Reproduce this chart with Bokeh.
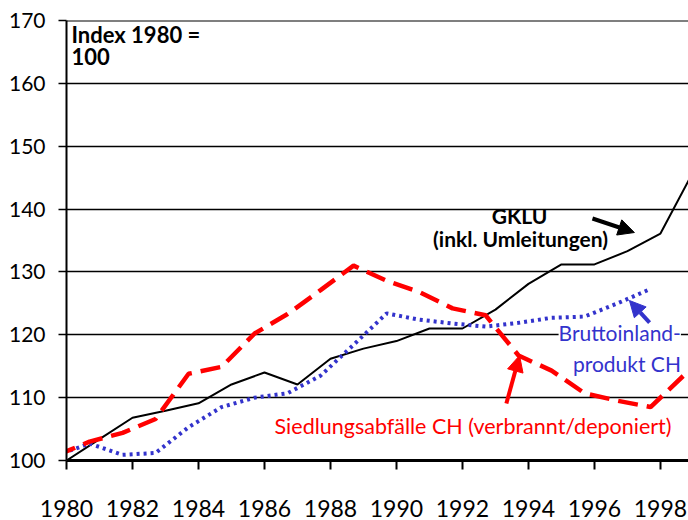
from bokeh.plotting import figure
from bokeh.models import Range1d, Span, Label, Arrow, NormalHead, FixedTicker, ColumnDataSource
from bokeh.embed import file_html
from bokeh.resources import INLINE

# ---- data ----
years_gklu = [1980, 1981, 1982, 1983, 1984, 1985, 1986, 1987, 1988, 1989,
              1990, 1991, 1992, 1993, 1994, 1995, 1996, 1997, 1998, 1999]
gklu = [100, 103.4, 106.8, 107.9, 109.1, 112.1, 114.0, 112.1, 116.2, 117.8,
        119.0, 121.0, 121.0, 124.0, 128.1, 131.2, 131.2, 133.3, 136.1, 146.0]

years_abfall = [1980, 1981, 1982, 1983, 1984, 1985, 1986, 1987, 1988, 1989,
                1990, 1991, 1992, 1993, 1994, 1995, 1996, 1997, 1998, 1999]
abfall = [100.8, 103.0, 104.4, 106.6, 113.8, 114.9, 120.2, 123.3, 127.1, 131.0,
          128.6, 126.8, 124.2, 123.1, 116.7, 114.3, 110.7, 109.5, 108.5, 113.5]

years_bip = [1980, 1981, 1982, 1983, 1984, 1985, 1986, 1987, 1988, 1989,
             1990, 1991, 1992, 1993, 1994, 1995, 1996, 1997, 1998]
bip = [100.8, 102.7, 100.9, 101.2, 105.3, 108.5, 110.0, 110.7, 113.5, 118.4,
       123.4, 122.4, 121.8, 121.3, 121.9, 122.7, 122.9, 125.0, 127.3]

x_ticks = [1980, 1982, 1984, 1986, 1988, 1990, 1992, 1994, 1996, 1998]
y_ticks = [100, 110, 120, 130, 140, 150, 160, 170]

shift = -0.3  # series plotted between categories

FONT = "Lato"
RED = "#ff0000"
BLUE = "#3333cc"

p = figure(width=688, height=520, output_backend="svg", toolbar_location=None,
           x_range=Range1d(1980, 1998.85), y_range=Range1d(100, 170),
           min_border_left=66, min_border_right=0, min_border_top=20, min_border_bottom=60)
p.outline_line_color = None
p.background_fill_color = "white"
p.border_fill_color = "white"

p.xgrid.visible = False
p.ygrid.ticker = FixedTicker(ticks=y_ticks)
p.ygrid.grid_line_color = "black"
p.ygrid.grid_line_width = 1.3

p.xaxis.ticker = FixedTicker(ticks=x_ticks)
p.yaxis.ticker = FixedTicker(ticks=y_ticks)
p.xaxis.axis_line_width = 3
p.yaxis.axis_line_width = 2
p.xaxis.major_tick_out = 9
p.xaxis.major_tick_in = 0
p.yaxis.major_tick_out = 8
p.yaxis.major_tick_in = 0
p.xaxis.major_tick_line_width = 2
p.yaxis.major_tick_line_width = 1.5
p.xaxis.minor_tick_line_color = None
p.yaxis.minor_tick_line_color = None
for ax in (p.xaxis, p.yaxis):
    ax.major_label_text_font = FONT
    ax.major_label_text_color = "black"
    ax.axis_line_color = "black"
    ax.major_tick_line_color = "black"
p.xaxis.major_label_text_font_size = "23px"
p.yaxis.major_label_text_font_size = "21px"
p.xaxis.major_label_standoff = 30
p.yaxis.major_label_standoff = 13

p.add_layout(Span(location=170, dimension="width", line_color="black", line_width=2))

src_g = ColumnDataSource(dict(x=years_gklu, y=gklu))
src_a = ColumnDataSource(dict(x=[y + shift for y in years_abfall], y=abfall))
src_b = ColumnDataSource(dict(x=[y + shift for y in years_bip], y=bip))

p.line("x", "y", source=src_g, line_color="black", line_width=2)
p.line("x", "y", source=src_b, line_color=BLUE, line_width=4, line_dash="3 4")
p.line("x", "y", source=src_a, line_color=RED, line_width=4.5, line_dash="20 9")

# ---- annotations ----
def lab(x, y, text, color="black", bold=False, align="left", bg=None, size="21px"):
    l = Label(x=x, y=y, text=text, text_font=FONT, text_font_size=size,
              text_color=color, text_align=align, text_baseline="top",
              text_font_style="bold" if bold else "normal")
    if bg:
        l.background_fill_color = bg
    p.add_layout(l)

lab(1980.15, 169.95, "Index 1980 =", bold=True, size="22px")
lab(1980.15, 165.7, "100", bold=True, size="22px")
lab(1993.73, 140.9, "GKLU", bold=True, align="center", size="21px")
lab(1993.76, 137.3, "(inkl. Umleitungen)", bold=True, align="center", size="21px")
lab(1998.62, 122.3, "Bruttoinland-", color=BLUE, align="right", bg="white", size="21px")
lab(1998.62, 117.4, "produkt CH", color=BLUE, align="right", size="21px")
lab(1992.32, 107.5, "Siedlungsabfälle CH (verbrannt/deponiert)", color=RED, align="center", size="21.5px")

p.add_layout(Arrow(x_start=1995.94, y_start=138.5, x_end=1997.21, y_end=136.27,
                   line_color="black", line_width=4,
                   end=NormalHead(size=16, fill_color="black", line_color="black")))
p.add_layout(Arrow(x_start=1997.67, y_start=121.95, x_end=1997.06, y_end=125.45,
                   line_color=BLUE, line_width=4,
                   end=NormalHead(size=16, fill_color=BLUE, line_color=BLUE)))
p.add_layout(Arrow(x_start=1993.33, y_start=109.07, x_end=1993.73, y_end=116.7,
                   line_color=RED, line_width=4,
                   end=NormalHead(size=16, fill_color=RED, line_color=RED)))

open("out.html", "w").write(file_html(p, INLINE))
